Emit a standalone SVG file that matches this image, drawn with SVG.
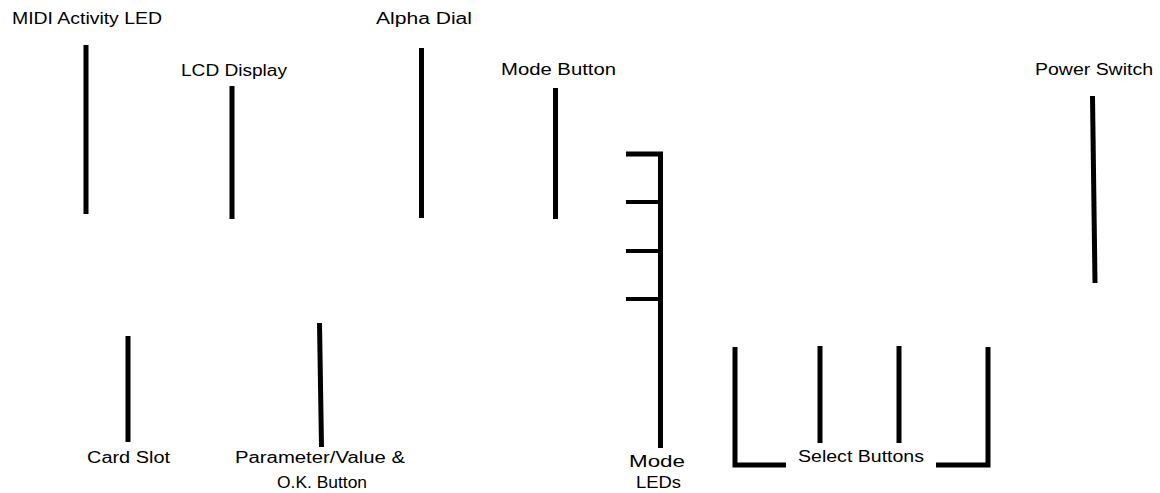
<svg xmlns="http://www.w3.org/2000/svg" width="1160" height="493" viewBox="0 0 1160 493">
  <style>
    .lbl { font-family: "Liberation Sans", Arial, sans-serif; font-size: 16px; fill: #000; }
    .lead { stroke: #000; stroke-width: 5; fill: none; stroke-linecap: butt; stroke-linejoin: miter; }
    .tick { stroke: #000; stroke-width: 4; fill: none; stroke-linecap: butt; }
  </style>
  <rect width="1160" height="493" fill="#fff"/>

  <!-- callout leaders -->
  <g id="connectors">
    <line class="lead" x1="86" y1="45" x2="86" y2="214"/>
    <line class="lead" x1="232" y1="86" x2="232" y2="219"/>
    <line class="lead" x1="421.5" y1="48" x2="421.5" y2="218"/>
    <line class="lead" x1="555.5" y1="88" x2="555.5" y2="219"/>
    <line class="lead" x1="1092.5" y1="96" x2="1095" y2="283"/>
    <line class="lead" x1="128" y1="336" x2="128" y2="442"/>
    <line class="lead" x1="319.5" y1="323" x2="321.5" y2="447"/>
    <!-- mode LEDs comb -->
    <polyline class="lead" points="626,154 660.5,154 660.5,448"/>
    <line class="tick" x1="626" y1="202" x2="660" y2="202"/>
    <line class="tick" x1="626" y1="251" x2="660" y2="251"/>
    <line class="tick" x1="626" y1="299" x2="660" y2="299"/>
    <!-- select buttons -->
    <polyline class="lead" points="735,347 735,465 786,465"/>
    <line class="lead" x1="820" y1="346" x2="820" y2="443"/>
    <line class="lead" x1="899" y1="346" x2="899" y2="443"/>
    <polyline class="lead" points="936,465 988,465 988,347"/>
  </g>

  <g id="midi-activity-led"><text class="lbl" x="12" y="24" textLength="150" lengthAdjust="spacingAndGlyphs">MIDI Activity LED</text></g>
  <g id="lcd-display"><text class="lbl" x="181" y="76" textLength="106" lengthAdjust="spacingAndGlyphs">LCD Display</text></g>
  <g id="alpha-dial"><text class="lbl" x="376" y="24" textLength="96" lengthAdjust="spacingAndGlyphs">Alpha Dial</text></g>
  <g id="mode-button"><text class="lbl" x="501" y="75" textLength="115" lengthAdjust="spacingAndGlyphs">Mode Button</text></g>
  <g id="power-switch"><text class="lbl" x="1035" y="75" textLength="118" lengthAdjust="spacingAndGlyphs">Power Switch</text></g>
  <g id="card-slot"><text class="lbl" x="87" y="463" textLength="83" lengthAdjust="spacingAndGlyphs">Card Slot</text></g>
  <g id="parameter-value-ok">
    <text class="lbl" x="235" y="463" textLength="170" lengthAdjust="spacingAndGlyphs">Parameter/Value &amp;</text>
    <text class="lbl" x="277" y="488" textLength="90" lengthAdjust="spacingAndGlyphs">O.K. Button</text>
  </g>
  <g id="mode-leds">
    <text class="lbl" x="629" y="467" textLength="56" lengthAdjust="spacingAndGlyphs">Mode</text>
    <text class="lbl" x="636" y="488" textLength="45" lengthAdjust="spacingAndGlyphs">LEDs</text>
  </g>
  <g id="select-buttons"><text class="lbl" x="798" y="462" textLength="126" lengthAdjust="spacingAndGlyphs">Select Buttons</text></g>
</svg>
